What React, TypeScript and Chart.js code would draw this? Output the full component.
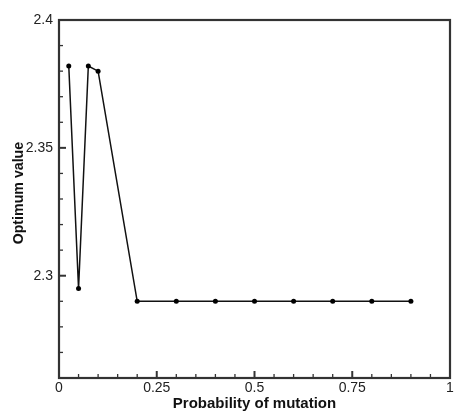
import React, { useEffect, useRef } from "react";
import { Chart, registerables } from "chart.js";

Chart.register(...registerables);

const mutationProb = [0.025, 0.05, 0.075, 0.1, 0.2, 0.3, 0.4, 0.5, 0.6, 0.7, 0.8, 0.9];
const optimumValue = [2.382, 2.295, 2.382, 2.38, 2.29, 2.29, 2.29, 2.29, 2.29, 2.29, 2.29, 2.29];
const xMajorTicks = [0, 0.25, 0.5, 0.75, 1];
const yMajorTicks = [2.3, 2.35, 2.4];

const FONT = "'Liberation Sans', Arial, sans-serif";
const AXIS_COLOR = "#333";

const framePlugin = {
  id: "frameTicks",
  afterDatasetsDraw(chart: any) {
    const { ctx, chartArea, scales } = chart;
    const xs = scales.x;
    const ys = scales.y;
    ctx.save();
    ctx.strokeStyle = AXIS_COLOR;
    xs.ticks.forEach((t: any) => {
      const v = t.value;
      const major = xMajorTicks.some((m) => Math.abs(m - v) < 1e-6);
      const px = xs.getPixelForValue(v);
      ctx.lineWidth = major ? 2 : 1.3;
      const len = major ? 7 : 4;
      ctx.beginPath();
      ctx.moveTo(px, chartArea.bottom);
      ctx.lineTo(px, chartArea.bottom - len);
      ctx.stroke();
    });
    ys.ticks.forEach((t: any) => {
      const v = t.value;
      const major = yMajorTicks.some((m) => Math.abs(m - v) < 1e-6);
      const py = ys.getPixelForValue(v);
      ctx.lineWidth = major ? 2 : 1.3;
      const len = major ? 7 : 4;
      ctx.beginPath();
      ctx.moveTo(chartArea.left, py);
      ctx.lineTo(chartArea.left + len, py);
      ctx.stroke();
    });
    ctx.lineWidth = 2.2;
    ctx.strokeRect(chartArea.left, chartArea.top, chartArea.right - chartArea.left, chartArea.bottom - chartArea.top);
    ctx.restore();
  },
};

export default function App() {
  const ref = useRef<HTMLCanvasElement | null>(null);
  useEffect(() => {
    if (!ref.current) return;
    const chart = new Chart(ref.current, {
      type: "line",
      data: {
        datasets: [
          {
            data: mutationProb.map((x, i) => ({ x, y: optimumValue[i] })),
            borderColor: "#111",
            backgroundColor: "#000",
            borderWidth: 1.5,
            pointRadius: 2.5,
            pointBorderWidth: 0,
            pointBackgroundColor: "#000",
            tension: 0,
          },
        ],
      },
      options: {
        animation: false,
        responsive: false,
        layout: { padding: { top: 20, right: 1, left: 0, bottom: 0 } },
        plugins: { legend: { display: false }, tooltip: { enabled: false } },
        scales: {
          x: {
            type: "linear",
            min: 0,
            max: 1,
            grid: { display: false, drawTicks: false },
            border: { display: false },
            ticks: {
              stepSize: 0.05,
              autoSkip: false,
              maxRotation: 0,
              padding: 2,
              color: "#222",
              font: { family: FONT, size: 14 },
              callback: (v: any) => {
                const n = Number(v);
                const m = xMajorTicks.find((t) => Math.abs(t - n) < 1e-6);
                return m === undefined ? "" : String(m);
              },
            },
            title: {
              display: true,
              text: "Probability of mutation",
              color: "#111",
              font: { family: FONT, size: 15, weight: "bold" },
              padding: { top: 0, bottom: -1.5 },
            },
            afterFit: (s: any) => {
              s.height = 33;
              s.paddingLeft = 0;
              s.paddingRight = 0;
            },
          },
          y: {
            type: "linear",
            min: 2.26,
            max: 2.4,
            grid: { display: false, drawTicks: false },
            border: { display: false },
            ticks: {
              stepSize: 0.01,
              autoSkip: false,
              padding: 6,
              color: "#222",
              font: { family: FONT, size: 14 },
              callback: (v: any) => {
                const n = Number(v);
                const m = yMajorTicks.find((t) => Math.abs(t - n) < 1e-6);
                return m === undefined ? "" : String(m);
              },
            },
            title: {
              display: true,
              text: "   Optimum value",
              color: "#111",
              font: { family: FONT, size: 14.2, weight: "bold" },
              padding: { top: 10.5, bottom: 0 },
            },
            afterFit: (s: any) => {
              s.width = 59;
              s.paddingTop = 0;
              s.paddingBottom = 0;
            },
          },
        },
      },
      plugins: [framePlugin],
    });
    return () => chart.destroy();
  }, []);
  return (
    <div style={{ position: "fixed", left: 0, top: 0, width: 454, height: 411, background: "#fff" }}>
      <canvas ref={ref} width={454} height={411} style={{ display: "block" }} />
    </div>
  );
}
